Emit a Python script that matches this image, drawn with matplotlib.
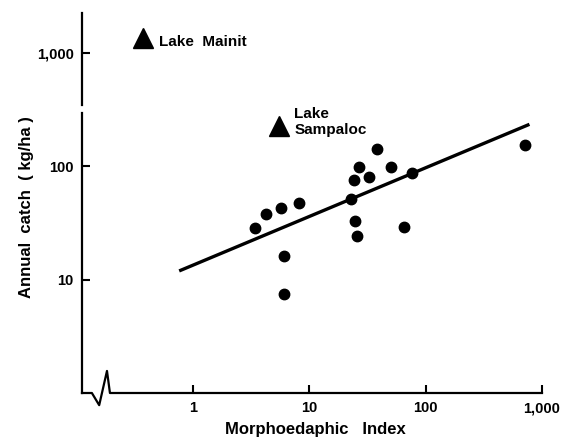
import numpy as np
import matplotlib
matplotlib.use("Agg")
import matplotlib.pyplot as plt  # noqa: E402
from matplotlib.transforms import blended_transform_factory  # noqa: E402

plt.rcParams["font.family"] = ["Liberation Sans", "DejaVu Sans"]

# lakes: morphoedaphic index vs annual fish catch (kg/ha)
mei = [3.4, 4.2, 5.7, 8.2, 6.0, 6.1, 22.6, 24.2, 24.7, 25.6, 26.8,
       32.6, 38.5, 50.5, 65.2, 75.9, 721]
catch = [28.6, 37.5, 42.4, 46.9, 16.1, 7.4, 51.2, 74.8, 32.7, 24.3, 97.5,
         80.0, 140, 98.6, 29.2, 87.3, 154]

# Philippine lakes shown as outliers
lake_names = ["Lake  Mainit", "Lake\nSampaloc"]
lake_mei = [0.37, 5.5]
lake_catch = [1350, 225]

# regression line ends
fit_mei = [0.76, 780]
fit_catch = [11.9, 233]

xticks = [1, 10, 100, 1000]
xticklabels = ["1", "10", "100", "1,000"]
yticks = [10, 100, 1000]
yticklabels = ["10", "100", "1,000"]

fig = plt.figure(figsize=(5.61, 4.43), dpi=100, facecolor="white")
ax = fig.add_axes([82 / 561, 50 / 443, 460 / 561, 380 / 443])
ax.set_xscale("log"); ax.set_yscale("log")
ax.set_xlim(0.111, 1000); ax.set_ylim(1.0, 2230)
for s in ax.spines.values():
    s.set_visible(False)

ax.plot(fit_mei, fit_catch, color="k", lw=2.4, solid_capstyle="butt", zorder=2)
ax.plot(mei, catch, "o", color="k", ms=7.5, mec="k", zorder=3)
ax.plot(lake_mei, lake_catch, "^", color="k", ms=15, zorder=3)
offsets = [(12, -3), (11, 3)]
sizes = [11, 11]
for name, x, y, off, fs in zip(lake_names, lake_mei, lake_catch, offsets, sizes):
    ax.annotate(name, (x, y), xytext=off, textcoords="offset points",
                ha="left", va="center", fontsize=fs, fontweight="bold",
                linespacing=1.12)

# hand-drawn style axes: broken y axis, zigzag at x origin
ty = blended_transform_factory(ax.transAxes, ax.transData)
ax.plot([0, 0], [1.0, 293], color="k", lw=1.6, transform=ty, clip_on=False)
ax.plot([0, 0], [344, 2230], color="k", lw=1.6, transform=ty, clip_on=False)
tx = blended_transform_factory(ax.transData, ax.transAxes)
ax.plot([0.111, 0.135, 0.156, 0.182, 0.193, 1000],
        [0, 0, -0.032, 0.058, 0, 0],
        color="k", lw=1.6, transform=tx, clip_on=False)

ax.set_xticks(xticks); ax.set_xticklabels(xticklabels)
ax.set_yticks(yticks); ax.set_yticklabels(yticklabels)
ax.minorticks_off()
ax.tick_params(direction="in", length=6, width=1.5, labelsize=10.5, colors="k")
ax.tick_params(axis="x", pad=6)
ax.tick_params(axis="y", pad=6)
for lab in ax.get_xticklabels() + ax.get_yticklabels():
    lab.set_fontweight("bold")

ax.set_xlabel("Morphoedaphic   Index", fontsize=12, fontweight="bold")
ax.xaxis.set_label_coords(0.507, -0.077)
ax.set_ylabel("Annual  catch  ( kg/ha )", fontsize=12, fontweight="bold")
ax.yaxis.set_label_coords(-0.105, 0.488)

fig.savefig("out.png", dpi=100)
